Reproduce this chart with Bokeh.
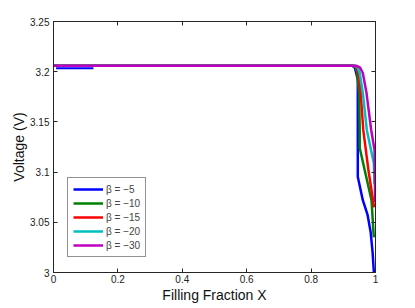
from bokeh.plotting import figure
from bokeh.embed import file_html
from bokeh.resources import INLINE
from bokeh.models import FixedTicker, LinearAxis, Legend, LegendItem, Range1d

x_ticks = [0, 0.2, 0.4, 0.6, 0.8, 1.0]
x_tick_labels = ["0", "0.2", "0.4", "0.6", "0.8", "1"]
y_ticks = [3.0, 3.05, 3.1, 3.15, 3.2, 3.25]
y_tick_labels = ["3", "3.05", "3.1", "3.15", "3.2", "3.25"]

labels = ["β = −5", "β = −10", "β = −15", "β = −20", "β = −30"]
colors = ["#0000ff", "#008000", "#ff0000", "#00bfbf", "#bf00bf"]

x_b5 = [0, 0.928, 0.936, 0.940, 0.945, 0.945, 0.9606, 0.975, 0.985, 0.991, 0.995]
v_b5 = [3.206, 3.206, 3.204, 3.1987, 3.192, 3.0953, 3.072, 3.058, 3.04, 3.02, 3.0]
x_b5_start = [0.008, 0.124]
v_b5_start = [3.2035, 3.2035]

x_b10 = [0, 0.93, 0.939, 0.943, 0.949, 0.951, 0.951, 0.9876, 0.9947]
v_b10 = [3.206, 3.206, 3.204, 3.1987, 3.179, 3.142, 3.124, 3.072, 3.035]

x_b15 = [0, 0.933, 0.942, 0.947, 0.954, 0.962, 0.978, 0.9947, 0.997]
v_b15 = [3.206, 3.206, 3.204, 3.1987, 3.179, 3.142, 3.102, 3.067, 3.065]

x_b20 = [0, 0.936, 0.945, 0.951, 0.9606, 0.973, 0.9947, 0.997]
v_b20 = [3.206, 3.206, 3.204, 3.1987, 3.179, 3.142, 3.1087, 3.088]

x_b30 = [0, 0.94, 0.952, 0.9606, 0.972, 0.9866, 0.997, 0.999]
v_b30 = [3.206, 3.206, 3.204, 3.1987, 3.179, 3.142, 3.122, 3.07]

FONT = "Liberation Sans"
AX = "#262626"

p = figure(width=406, height=305, output_backend="svg", toolbar_location=None,
           x_range=Range1d(0, 1), y_range=Range1d(3.0, 3.25),
           min_border_left=53, min_border_right=31, min_border_top=21, min_border_bottom=28)
p.grid.visible = False
p.outline_line_color = AX
p.outline_line_width = 1
p.background_fill_color = "white"
p.border_fill_color = "white"

series = [(x_b5, v_b5), (x_b10, v_b10), (x_b15, v_b15), (x_b20, v_b20), (x_b30, v_b30)]
items = []
for (xs, vs), c, lab in zip(series, colors, labels):
    r = p.line(xs, vs, line_color=c, line_width=2.5)
    items.append(LegendItem(label=lab, renderers=[r]))
p.line(x_b5_start, v_b5_start, line_color=colors[0], line_width=2)

def style(ax):
    ax.axis_line_color = AX
    ax.major_tick_line_color = AX
    ax.minor_tick_line_color = None
    ax.major_tick_in = 4
    ax.major_tick_out = 0
    ax.major_label_text_font = FONT
    ax.major_label_text_font_size = "10px"
    ax.major_label_text_color = "#222222"
    ax.axis_label_text_font = FONT
    ax.axis_label_text_font_size = "14px"
    ax.axis_label_text_font_style = "normal"
    ax.axis_label_text_color = "#111111"

xa = p.xaxis[0]
xa.ticker = FixedTicker(ticks=x_ticks)
xa.major_label_overrides = {t: l for t, l in zip(x_ticks, x_tick_labels)}
xa.axis_label = "Filling Fraction X"
xa.major_label_standoff = 2
xa.axis_label_standoff = 1
style(xa)

ya = p.yaxis[0]
ya.ticker = FixedTicker(ticks=y_ticks)
ya.major_label_overrides = {t: l for t, l in zip(y_ticks, y_tick_labels)}
ya.axis_label = "Voltage (V)"
ya.axis_label_standoff = 0
ya.major_label_standoff = 4
style(ya)

top = LinearAxis(ticker=FixedTicker(ticks=x_ticks))
style(top)
top.major_label_overrides = {t: "" for t in x_ticks}
p.add_layout(top, "above")
right = LinearAxis(ticker=FixedTicker(ticks=y_ticks))
style(right)
right.major_label_overrides = {t: "" for t in y_ticks}
p.add_layout(right, "right")

leg = Legend(items=items, location=(14, 15))
leg.label_text_font = FONT
leg.label_text_font_size = "10px"
leg.label_height = 12
leg.glyph_height = 12
leg.glyph_width = 30
leg.spacing = 2
leg.padding = 5
leg.margin = 0
leg.label_standoff = 3
leg.border_line_color = AX
leg.border_line_width = 1
leg.background_fill_alpha = 1
p.add_layout(leg, "center")

open("out.html", "w").write(file_html(p, INLINE))
